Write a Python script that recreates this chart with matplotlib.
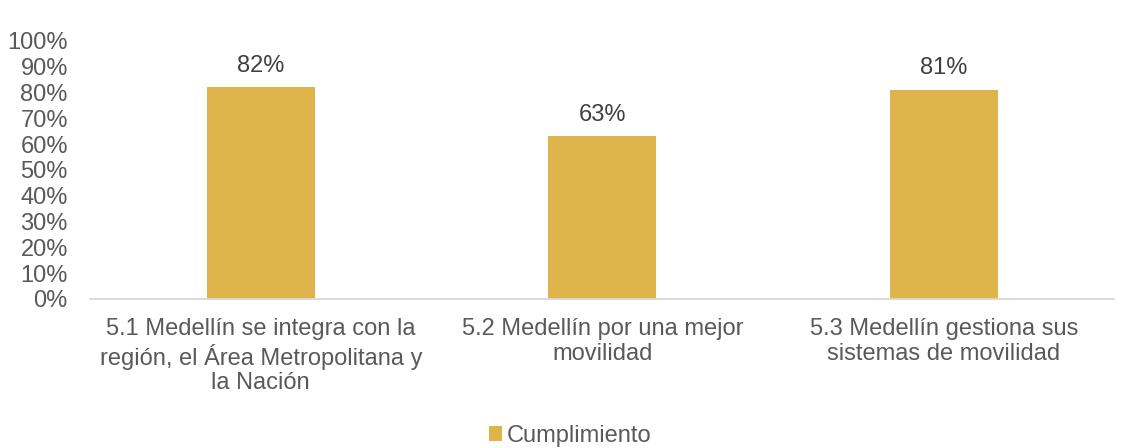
import numpy as np
import matplotlib.pyplot as plt

plt.rcParams['font.family'] = ['Liberation Sans', 'DejaVu Sans']

categories = ["5.1 Medellín se integra con la\nregión, el Área Metropolitana y\nla Nación",
              "5.2 Medellín por una mejor\nmovilidad",
              "5.3 Medellín gestiona sus\nsistemas de movilidad"]
cumplimiento = [0.82, 0.63, 0.81]
yticks = np.arange(0, 1.01, 0.1)

bar_color = '#DFB54B'
text_color = '#595959'

fig = plt.figure(figsize=(11.27, 4.48), dpi=100)
ax = fig.add_axes([0.0799, 0.3326, 0.909, 0.576])

x = np.arange(len(categories))
bars = ax.bar(x, cumplimiento, width=0.315, color=bar_color, label='Cumplimiento')

for xi, v in zip(x, cumplimiento):
    ax.text(xi, v + 0.042, f"{v*100:.0f}%", ha='center', va='bottom',
            fontsize=17, color='#404040')

ax.set_xlim(-0.5, 2.5)
ax.set_ylim(0, 1)
ax.set_yticks(yticks)
ax.set_yticklabels([f"{t*100:.0f}%" for t in yticks])
ax.set_xticks(x)
ax.set_xticklabels(categories, linespacing=1.15)
ax.tick_params(axis='both', length=0, labelsize=17, labelcolor=text_color)
ax.tick_params(axis='y', pad=16)
ax.tick_params(axis='x', pad=14)

for s in ['top', 'right', 'left']:
    ax.spines[s].set_visible(False)
ax.spines['bottom'].set_color('#D9D9D9')
ax.spines['bottom'].set_linewidth(1.3)

leg = fig.legend(loc='center', bbox_to_anchor=(0.506, 0.027), frameon=False,
                 fontsize=17, handlelength=0.55, handleheight=0.55, handletextpad=0.2)
for t in leg.get_texts():
    t.set_color(text_color)

fig.savefig('out.png', dpi=100)
